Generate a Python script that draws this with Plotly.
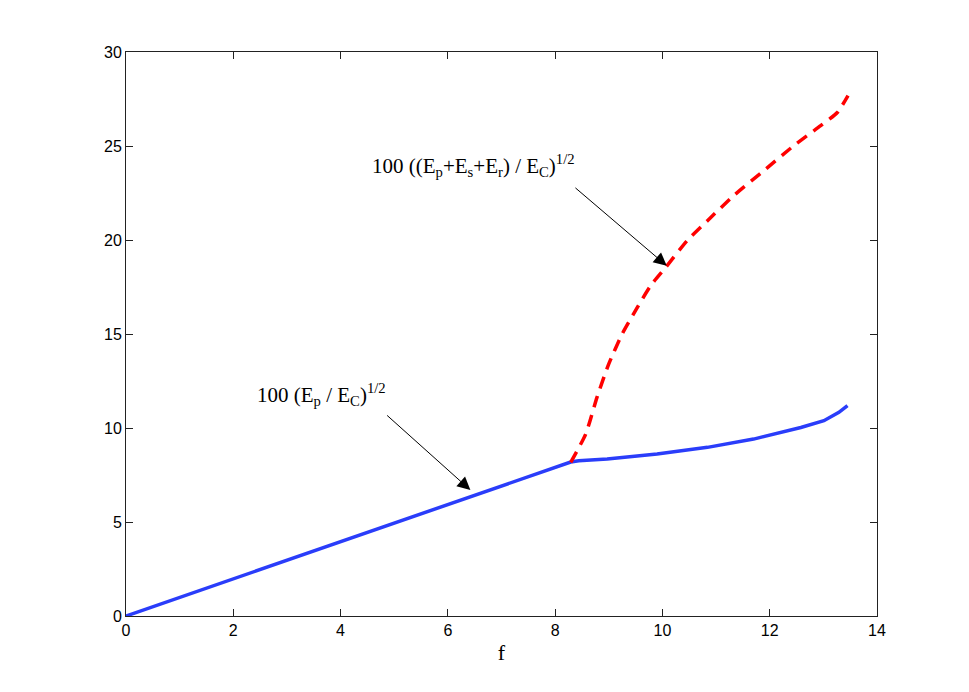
import plotly.graph_objects as go

# blue: 100 (Ep / EC)^1/2
f_p = [0.0, 8.29, 8.44, 8.97, 9.90, 10.84, 11.70, 12.58, 13.01, 13.29, 13.45]
val_p = [0.0, 8.19, 8.26, 8.35, 8.62, 8.97, 9.41, 10.03, 10.39, 10.83, 11.19]

# red: 100 ((Ep+Es+Er) / EC)^1/2
f_all = [8.29, 8.57, 8.78, 9.00, 9.25, 9.53, 9.78, 10.06, 10.46, 10.84,
         11.33, 11.89, 12.45, 12.95, 13.26, 13.46]
val_all = [8.17, 9.68, 11.63, 13.41, 15.00, 16.40, 17.57, 18.54, 19.96, 21.03,
           22.36, 23.69, 25.02, 26.08, 26.78, 27.68]

x_ticks = [0, 2, 4, 6, 8, 10, 12, 14]
y_ticks = [0, 5, 10, 15, 20, 25, 30]

label_p = "100 (E<sub>p</sub> / E<sub>C</sub>)<sup>1/2</sup>"
label_all = ("100 ((E<sub>p</sub>+E<sub>s</sub>+E<sub>r</sub>) / "
             "E<sub>C</sub>)<sup>1/2</sup>")

fig = go.Figure()

fig.add_trace(go.Scatter(x=f_p, y=val_p, mode="lines",
                         line=dict(color="#2a3dfa", width=3.5),
                         showlegend=False))
fig.add_trace(go.Scatter(x=f_all, y=val_all, mode="lines",
                         line=dict(color="#ff0000", width=3.5, dash="12px,8px",
                                   shape="spline", smoothing=0.6),
                         showlegend=False))

serif = dict(family="Liberation Serif", size=21, color="black")

# labels (text and arrow drawn separately, like the original)
fig.add_annotation(x=3.64, y=11.8, text=label_p, showarrow=False,
                   font=serif, xanchor="center", yanchor="middle")
fig.add_annotation(x=6.47, y=23.95, text=label_all, showarrow=False,
                   font=serif, xanchor="center", yanchor="middle")

arrow = dict(showarrow=True, arrowhead=2, arrowsize=2.6, arrowwidth=1,
             arrowcolor="black", axref="x", ayref="y", text="",
             standoff=0, startstandoff=0)
fig.add_annotation(x=6.42, y=6.70, ax=4.84, ay=10.74, **arrow)
fig.add_annotation(x=10.08, y=18.63, ax=8.35, ay=22.84, **arrow)

axis_common = dict(showline=True, linecolor="#222222", linewidth=1,
                   mirror="ticks", ticks="inside", ticklen=7,
                   tickcolor="#222222", showgrid=False, zeroline=False,
                   tickfont=dict(family="Liberation Sans", size=16, color="black"))

fig.update_xaxes(range=[0, 14], tickvals=x_ticks,
                 title=dict(text="f", font=dict(family="Liberation Serif", size=22,
                                                color="black"), standoff=6),
                 **axis_common)
fig.update_yaxes(range=[0, 30], tickvals=y_ticks, **axis_common)

# the page adds an 8px body margin, so the plot area is shifted back here
fig.update_layout(width=969, height=692,
                  margin=dict(l=118, r=100, t=44, b=84),
                  paper_bgcolor="white", plot_bgcolor="white")

fig.write_html("out.html")
